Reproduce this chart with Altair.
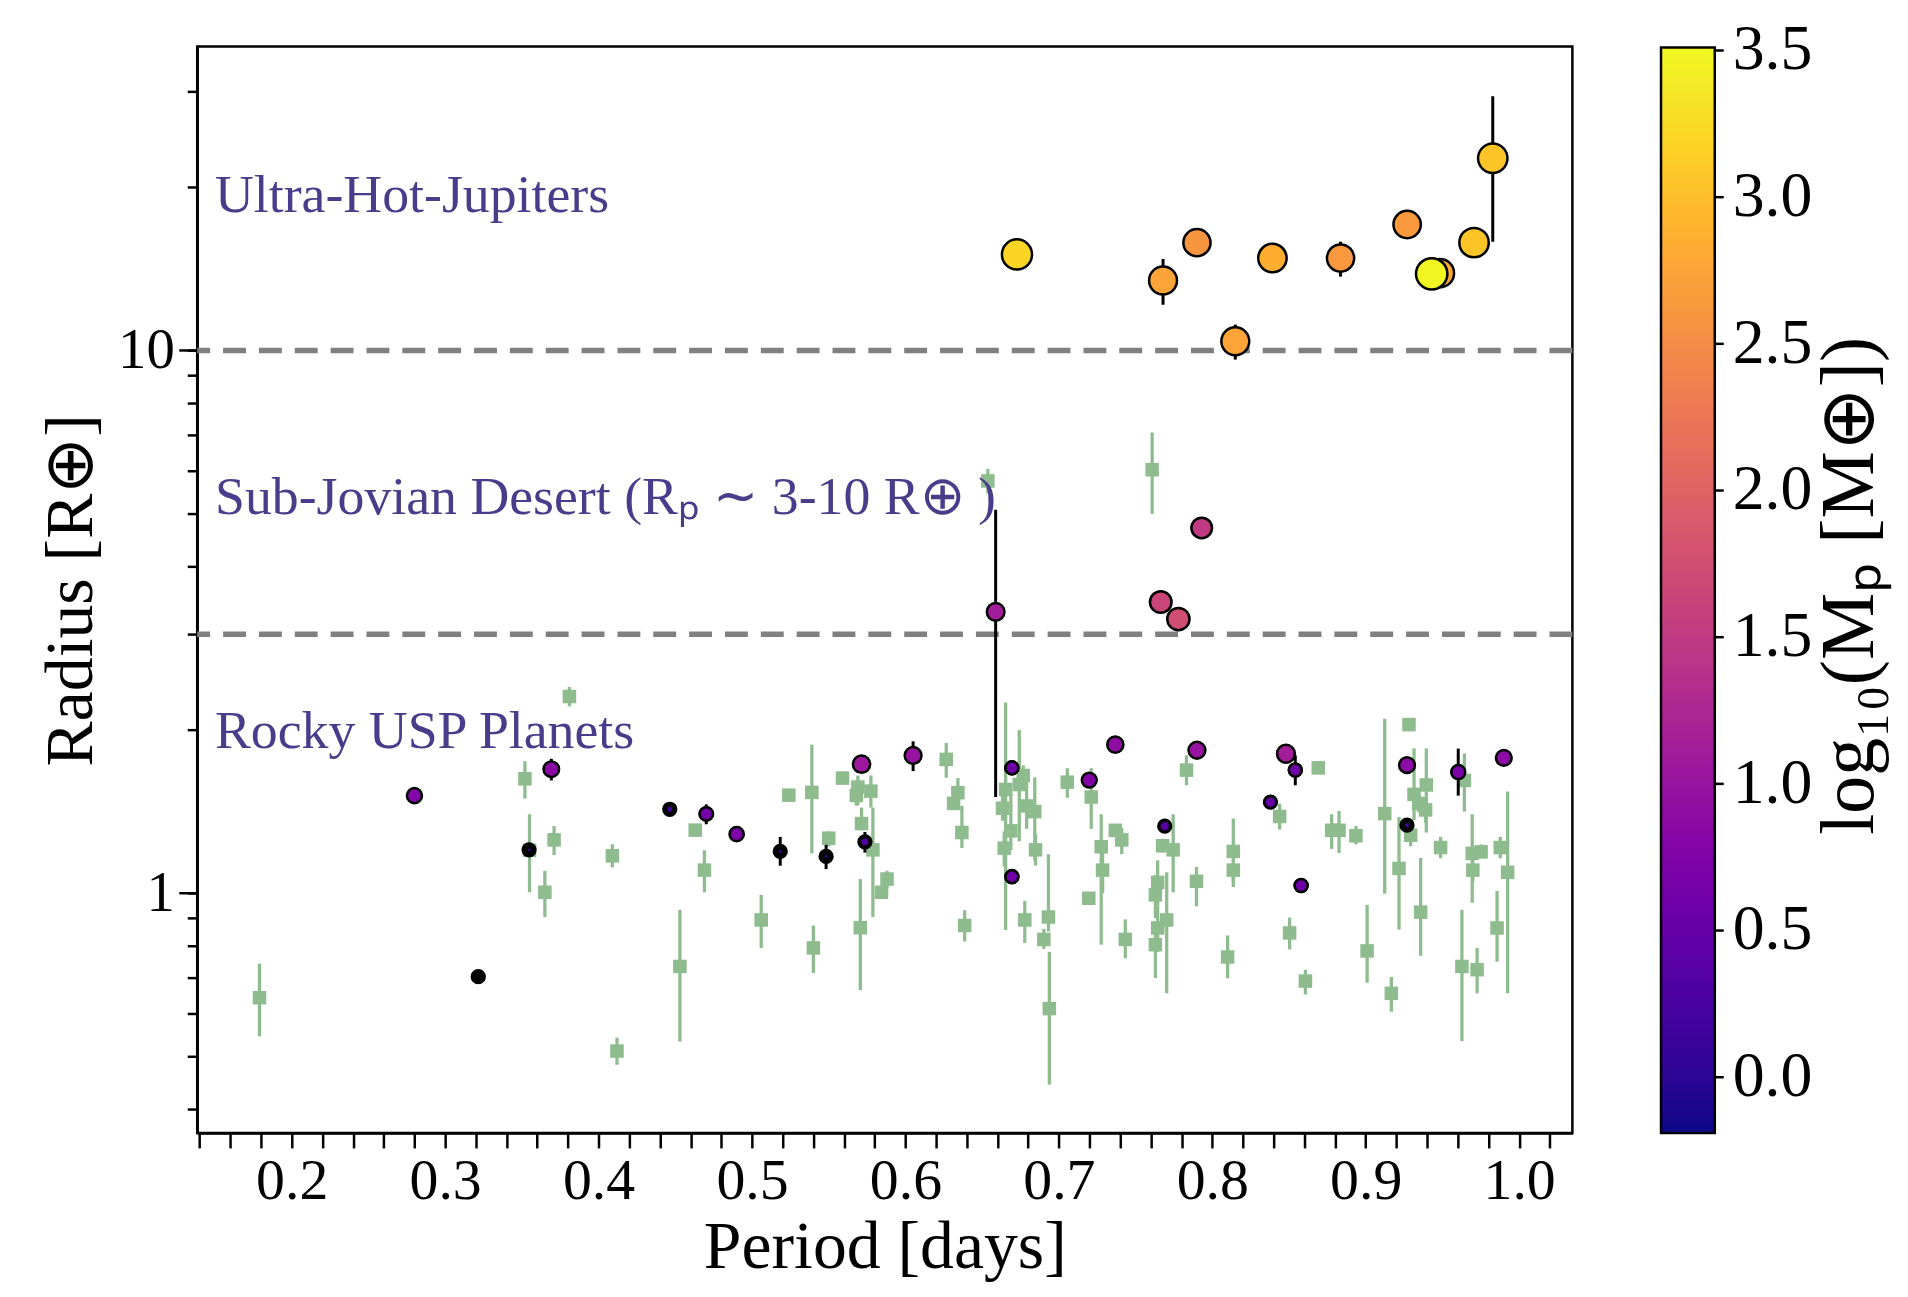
import altair as alt
import pandas as pd

# ---------------- data ----------------
# Other known USP planets (green squares with error bars)
OTHER_P = [0.179, 0.352, 0.355, 0.371, 0.365, 0.381, 0.409, 0.412, 0.463, 0.469,
           0.453, 0.506, 0.524, 0.539, 0.540, 0.550, 0.559, 0.569, 0.568, 0.5775,
           0.5714, 0.5788, 0.5706, 0.588, 0.5844, 0.6266, 0.6342, 0.6314, 0.6368, 0.6386,
           0.6537, 0.7608, 0.6653, 0.6633, 0.6687, 0.6644, 0.6742, 0.6768, 0.679, 0.6843,
           0.6848, 0.6778, 0.6932, 0.6902, 0.6938, 0.7055, 0.7211, 0.7276, 0.7285, 0.7195,
           0.7368, 0.741, 0.7433, 0.7832, 0.7676, 0.7745, 0.7644, 0.7629, 0.7644, 0.7629,
           0.7703, 0.7897, 0.8137, 0.8137, 0.81, 0.8439, 0.8691, 0.8504, 0.8607, 0.8778,
           0.8826, 0.8936, 0.9009, 0.9124, 0.9167, 0.9217, 0.9282, 0.9293, 0.9315, 0.9345,
           0.9395, 0.939, 0.9358, 0.9488, 0.9643, 0.9627, 0.9694, 0.9698, 0.9752, 0.9726,
           0.9877, 0.9856, 0.9925]
OTHER_R = [0.642, 1.625, 1.20, 1.254, 1.004, 2.304, 1.172, 0.512, 1.307, 1.103,
           0.733, 0.893, 1.516, 1.534, 0.793, 1.263, 1.63, 1.569, 1.514, 1.542,
           1.344, 1.202, 0.864, 1.062, 1.004, 1.764, 1.532, 1.464, 1.294, 0.872,
           5.75, 6.03, 1.553, 1.434, 1.303, 1.211, 1.586, 1.648, 1.448, 1.414,
           1.202, 0.893, 0.904, 0.822, 0.613, 1.602, 1.504, 1.218, 1.103, 0.979,
           1.306, 1.254, 0.822, 1.686, 1.223, 1.202, 1.047, 0.993, 0.863, 0.804,
           0.893, 1.052, 1.194, 1.103, 0.763, 1.385, 1.702, 0.845, 0.689, 1.306,
           1.306, 1.276, 0.783, 1.402, 0.654, 1.111, 2.045, 1.279, 1.521, 1.464,
           1.583, 1.424, 0.923, 1.214, 1.614, 0.733, 1.184, 1.103, 1.192, 0.723,
           1.214, 0.863, 1.093]
OTHER_LO = [0.545, 1.494, 1.004, 1.176, 0.904, 2.21, 1.116, 0.483, 1.28, 1.004,
            0.533, 0.793, 1.50, 1.184, 0.713, 1.22, 1.61, 1.452, 1.45, 1.438,
            1.306, 0.904, 0.663, 1.02, 0.99, 1.632, 1.486, 1.43, 1.212, 0.815,
            5.45, 5.0, 0.856, 1.36, 1.2, 1.12, 1.246, 1.58, 1.314, 1.149,
            1.125, 0.81, 0.85, 0.79, 0.444, 1.50, 1.314, 0.804, 1.0, 0.97,
            1.27, 1.18, 0.759, 1.581, 1.19, 1.004, 0.95, 0.90, 0.78, 0.698,
            0.654, 0.946, 1.027, 1.05, 0.697, 1.31, 1.66, 0.788, 0.651, 1.207,
            1.186, 1.23, 0.684, 0.998, 0.605, 0.857, 1.99, 1.22, 1.363, 1.41,
            1.294, 1.35, 0.767, 1.16, 1.414, 0.534, 0.96, 1.05, 1.16, 0.654,
            1.16, 0.748, 0.654]
OTHER_HI = [0.742, 1.751, 1.398, 1.33, 1.10, 2.40, 1.231, 0.542, 1.33, 1.20,
            0.932, 0.993, 1.53, 1.879, 0.872, 1.30, 1.65, 1.648, 1.58, 1.648,
            1.438, 1.438, 1.062, 1.10, 1.02, 1.892, 1.63, 1.50, 1.449, 0.931,
            6.05, 7.06, 2.247, 1.52, 1.52, 1.30, 1.998, 1.72, 1.635, 1.635,
            1.285, 0.968, 1.18, 0.86, 0.78, 1.70, 1.70, 1.398, 1.2, 0.99,
            1.34, 1.32, 0.895, 1.795, 1.26, 1.398, 1.15, 1.08, 0.95, 0.887,
            1.093, 1.118, 1.373, 1.15, 0.836, 1.462, 1.75, 0.902, 0.723, 1.398,
            1.418, 1.33, 0.952, 2.096, 0.701, 1.382, 2.10, 1.34, 1.849, 1.52,
            1.849, 1.50, 1.162, 1.27, 1.809, 0.932, 1.398, 1.15, 1.23, 0.793,
            1.27, 1.01, 1.54]

# Planets with measured masses (circles coloured by log10 mass)
PL_P = [0.280, 0.3216, 0.3547, 0.3692, 0.4464, 0.4702, 0.490, 0.5184, 0.5483, 0.5714,
        0.5736, 0.605, 0.6694, 0.6694, 0.7198, 0.7368, 0.769, 0.790, 0.8379, 0.848,
        0.8541, 0.8579, 0.9269, 0.9269, 0.9603, 0.990,
        0.6588, 0.7664, 0.7779, 0.7931,
        0.6727, 0.7679, 0.790, 0.815, 0.8392, 0.8836, 0.927, 0.9484, 0.943, 0.9706, 0.9828]
PL_R = [1.513, 0.702, 1.202, 1.693, 1.428, 1.40, 1.285, 1.194, 1.169, 1.729,
        1.244, 1.794, 1.702, 1.073, 1.616, 1.878, 1.329, 1.834, 1.472, 1.807,
        1.686, 1.033, 1.335, 1.722, 1.672, 1.776,
        3.30, 3.44, 3.20, 4.71,
        15.03, 13.46, 15.8, 10.4, 14.8, 14.8, 17.06, 13.88, 13.84, 15.8, 22.6]
PL_LO = [1.513, 0.702, 1.18, 1.614, 1.428, 1.34, 1.285, 1.124, 1.108, 1.729,
         1.188, 1.679, 1.66, 1.073, 1.58, 1.878, 1.30, 1.834, 1.472, 1.76,
         1.581, 1.009, 1.335, 1.70, 1.513, 1.75,
         1.504, 3.44, 3.20, 4.71,
         15.03, 12.14, 15.8, 9.62, 14.8, 13.68, 17.06, 13.88, 13.84, 15.8, 15.86]
PL_HI = [1.513, 0.702, 1.22, 1.769, 1.428, 1.458, 1.285, 1.27, 1.228, 1.729,
         1.297, 1.905, 1.74, 1.073, 1.65, 1.878, 1.36, 1.834, 1.472, 1.86,
         1.795, 1.056, 1.335, 1.75, 1.847, 1.80,
         5.09, 3.44, 3.20, 4.71,
         15.03, 14.74, 15.8, 11.16, 14.8, 15.86, 17.06, 13.88, 13.84, 15.8, 29.4]
PL_LOGM = [0.8, -0.19, 0.1, 0.85, 0.2, 0.65, 0.72, 0.1, 0.1, 1.05,
           0.3, 1.0, 0.6, 0.6, 0.78, 0.92, 0.4, 1.0, 0.5, 1.12,
           0.6, 0.6, 0.15, 0.88, 0.7, 0.88,
           1.1, 1.65, 1.75, 1.5,
           3.2, 2.75, 2.6, 2.75, 2.85, 2.62, 2.65, 2.8, 3.48, 3.05, 3.05]

BOUNDARIES = [3, 10]
ANNOT_TEXT = ["Ultra-Hot-Jupiters",
              "Sub-Jovian Desert (R\u209a  \u223c 3-10 R\u2295 )",
              "Rocky USP Planets"]
ANNOT_P = [0.15, 0.15, 0.15]
ANNOT_R = [18, 5, 1.85]

X_TICKS = [0.14, 0.16, 0.18, 0.20, 0.22, 0.24, 0.26, 0.28, 0.30, 0.32, 0.34, 0.36,
           0.38, 0.40, 0.42, 0.44, 0.46, 0.48, 0.50, 0.52, 0.54, 0.56, 0.58, 0.60,
           0.62, 0.64, 0.66, 0.68, 0.70, 0.72, 0.74, 0.76, 0.78, 0.80, 0.82, 0.84,
           0.86, 0.88, 0.90, 0.92, 0.94, 0.96, 0.98, 1.00, 1.02]
Y_MINOR = [0.4, 0.5, 0.6, 0.7, 0.8, 0.9, 2, 3, 4, 5, 6, 7, 8, 9, 20, 30]
Y_MAJOR = [1, 10]
CBAR_TICKS = [0.0, 0.5, 1.0, 1.5, 2.0, 2.5, 3.0, 3.5]
CBAR_DOMAIN = [-0.19, 3.51]

# ---------------- chart ----------------
FONT = "Liberation Serif"
W, H = 1381, 1091
CBAR_X, CBAR_Y, CBAR_LEN, CBAR_THICK = 1470, 1, 1090, 54

other = pd.DataFrame({"P": OTHER_P, "R": OTHER_R, "lo": OTHER_LO, "hi": OTHER_HI})
planets = pd.DataFrame({"P": PL_P, "R": PL_R, "lo": PL_LO, "hi": PL_HI, "logM": PL_LOGM})
bounds = pd.DataFrame({"R": BOUNDARIES})
annot = pd.DataFrame({"P": ANNOT_P, "R": ANNOT_R, "t": ANNOT_TEXT})
major = pd.DataFrame({"R": Y_MAJOR})
cbar_ticks = pd.DataFrame({"v": CBAR_TICKS})

XS = alt.Scale(type="linear", domain=[0.1384, 1.0347], nice=False, zero=False)
YS = alt.Scale(type="log", domain=[0.3617, 36.3], nice=False)

XA = alt.Axis(values=X_TICKS, title="Period [days]", grid=False,
              labelExpr="abs(datum.value*10 - round(datum.value*10)) < 0.001 ? format(datum.value, '.1f') : ''",
              tickSize=15, tickWidth=2.5, tickColor="black",
              domainColor="black", domainWidth=2.5,
              labelFont=FONT, labelFontSize=58, labelColor="black", labelPadding=5,
              labelFlush=False, labelOverlap=False,
              titleFont=FONT, titleFontSize=68, titleFontWeight="normal",
              titleColor="black", titlePadding=3)
YA = alt.Axis(values=Y_MINOR + Y_MAJOR, title="Radius [R\u2295]", grid=False,
              labelExpr="datum.value == 1 || datum.value == 10 ? format(datum.value, 'd') : ''",
              tickSize=10, tickWidth=2.5, tickColor="black",
              domainColor="black", domainWidth=2.5,
              labelFont=FONT, labelFontSize=57, labelColor="black", labelPadding=13,
              labelFlush=False, labelOverlap=False,
              titleFont=FONT, titleFontSize=68, titleFontWeight="normal",
              titleColor="black", titlePadding=12)


def xe(field):
    return alt.X(field, type="quantitative", scale=XS, axis=XA)


def ye(field):
    return alt.Y(field, type="quantitative", scale=YS, axis=YA)


dashed = alt.Chart(bounds).mark_rule(color="#808080", strokeWidth=5.5, strokeDash=[23, 13]).encode(
    y=ye("R"))

major_ticks = alt.Chart(major).mark_rule(color="black", strokeWidth=2.5).encode(
    y=ye("R"), x=alt.value(-18), x2=alt.value(0))

other_err = alt.Chart(other).mark_rule(color="darkseagreen", strokeWidth=3.3).encode(
    x=xe("P"), y=ye("lo"), y2="hi")
other_pts = alt.Chart(other).mark_point(shape="square", filled=True, size=185,
                                        color="darkseagreen", opacity=1).encode(
    x=xe("P"), y=ye("R"))

pl_err = alt.Chart(planets).mark_rule(color="black", strokeWidth=3).encode(
    x=xe("P"), y=ye("lo"), y2="hi")
pl_base = alt.Chart(planets).mark_circle(size=235, color="black", opacity=1).encode(
    x=xe("P"), y=ye("R"))
pl_pts = alt.Chart(planets).mark_point(shape="circle", filled=True, stroke="black",
                                       strokeWidth=2.5, opacity=1).encode(
    x=xe("P"), y=ye("R"),
    color=alt.Color("logM:Q",
                    scale=alt.Scale(scheme="plasma", domain=CBAR_DOMAIN),
                    legend=alt.Legend(orient="none", legendX=CBAR_X, legendY=CBAR_Y,
                                      direction="vertical", title=None,
                                      gradientLength=CBAR_LEN, gradientThickness=CBAR_THICK,
                                      gradientStrokeColor="black", gradientStrokeWidth=2.5,
                                      values=CBAR_TICKS, format=".1f",
                                      labelFont=FONT, labelFontSize=64, labelColor="black",
                                      labelOffset=18, labelOverlap=False, padding=0)),
    size=alt.Size("logM:Q", scale=alt.Scale(domain=[0, 3.5], range=[0, 1000], clamp=True),
                  legend=None))

labels = alt.Chart(annot).mark_text(align="left", baseline="alphabetic", font=FONT,
                                    fontSize=54, color="#483D8B").encode(
    x=xe("P"), y=ye("R"), text="t")

cbar_title = alt.Chart(pd.DataFrame({"t": ["log\u2081\u2080(M\u209a [M\u2295])"]})).mark_text(
    angle=270, align="center", baseline="middle", font=FONT, fontSize=76, color="black").encode(
    x=alt.value(1660), y=alt.value(H / 2 - 4), text="t")

main = alt.layer(
    dashed, other_err, other_pts, pl_err, pl_base, pl_pts, labels, major_ticks, cbar_title
)

# small tick marks on the right side of the colour bar
cbar_tick_marks = alt.Chart(cbar_ticks).mark_rule(color="black", strokeWidth=2.5).encode(
    y=alt.Y("v:Q", scale=alt.Scale(domain=CBAR_DOMAIN,
                                   range=[CBAR_Y + CBAR_LEN, CBAR_Y]), axis=None),
    x=alt.value(CBAR_X + CBAR_THICK), x2=alt.value(CBAR_X + CBAR_THICK + 9))

chart = alt.layer(main, cbar_tick_marks).resolve_scale(y="independent").properties(
    width=W, height=H,
    autosize=alt.AutoSizeParams(type="none"),
    padding={"left": 190, "top": 36, "right": 329, "bottom": 160},
).configure_view(stroke="black", strokeWidth=2.5)

chart.save("out.html", embed_options={"renderer": "svg", "actions": False})
